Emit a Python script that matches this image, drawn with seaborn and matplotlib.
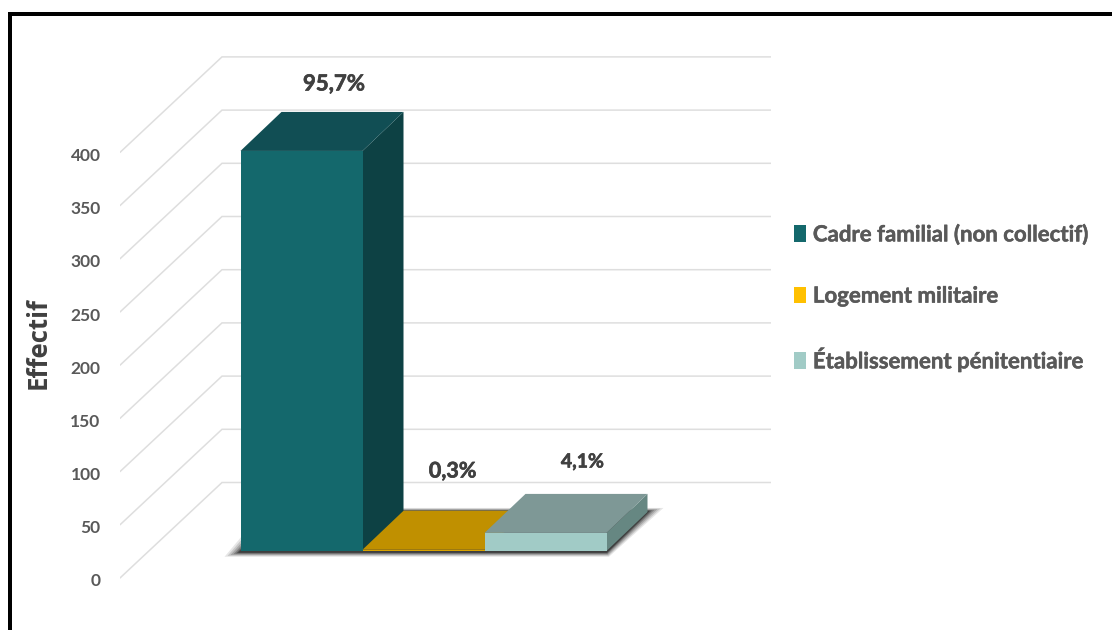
import matplotlib
matplotlib.use("Agg")
import matplotlib.pyplot as plt
import matplotlib.patheffects as pe
from matplotlib.transforms import ScaledTranslation
import seaborn as sns
import pandas as pd
from matplotlib.patches import Polygon, Patch, Rectangle

categories = ["Cadre familial (non collectif)", "Logement militaire", "Établissement pénitentiaire"]
values = [376, 1.2, 17]
percent_labels = ["95,7%", "0,3%", "4,1%"]
y_ticks = [0, 50, 100, 150, 200, 250, 300, 350, 400]
front_colors = ["#14686C", "#D9A300", "#A1CBC6"]
top_colors = ["#114E54", "#C09000", "#7E9896"]
side_colors = ["#0D4144", "#A87F00", "#668782"]
legend_colors = ["#14686C", "#FFC000", "#A1CBC6"]

W, H = 1112, 630
sns.set_theme(style="white")
plt.rcParams["font.family"] = ["Lato", "DejaVu Sans"]
fig = plt.figure(figsize=(W / 100, H / 100), dpi=100, facecolor="white")

# pixel layout
L, R, T, B = 120, 771, 30, 610
PX_X = 122.0        # px per category
PX_Y = 53.2 / 50    # px per value unit
pos = [L / W, 1 - B / H, (R - L) / W, (B - T) / H]
xlim = ((L - 301.5) / PX_X, (R - 301.5) / PX_X)
heavy = [pe.withStroke(linewidth=0.45, foreground="#404040")]
heavy_grey = [pe.withStroke(linewidth=0.35, foreground="#595959")]

def ylim_for(zero_px):
    return ((zero_px - B) / PX_Y, (zero_px - T) / PX_Y)

# Back axis: walls and gridlines
ax_wall = fig.add_axes(pos, facecolor="none", zorder=1)
ax_wall.set_xlim(xlim)
ax_wall.set_ylim(ylim_for(578))
wall_dx, wall_dy = 102 / PX_X, 95.5 / PX_Y
for t in y_ticks:
    ax_wall.plot([xlim[0], xlim[0] + wall_dx, xlim[1]], [t, t + wall_dy, t + wall_dy],
                 color="#DEDEDE", lw=1.1, solid_joinstyle="miter")
ax_wall.set_yticks(y_ticks)
ax_wall.set_yticklabels([str(t) for t in y_ticks], fontsize=12.5, fontweight="bold", color="#595959")
ax_wall.set_xticks([])
ax_wall.tick_params(length=0, pad=14)
for lab in ax_wall.get_yticklabels():
    lab.set_transform(lab.get_transform() + ScaledTranslation(0, -2 / 100, fig.dpi_scale_trans))
sns.despine(ax=ax_wall, left=True, bottom=True)

# Front axis: bars
ax = fig.add_axes(pos, facecolor="none", zorder=2)
df = pd.DataFrame({"cat": categories, "val": values})
sns.barplot(data=df, x="cat", y="val", hue="cat", order=categories, hue_order=categories,
            palette=front_colors, saturation=1, width=1.0, dodge=False, legend=False, ax=ax, linewidth=0)
ax.set_xlim(xlim)
ax.set_ylim(ylim_for(551))
ax.set_xticks([])
ax.set_yticks([])
ax.set_xlabel("")
ax.set_ylabel("")
sns.despine(ax=ax, left=True, bottom=True)

bar_dx, bar_dy = 41 / PX_X, 39 / PX_Y

# Blurred floor shadow
for grow, a in [(16, 0.10), (13, 0.14), (10, 0.18), (7, 0.24), (4.5, 0.32), (2.5, 0.4)]:
    gx, gy = grow / PX_X, (1 + grow * 0.3) / PX_Y
    ax.add_patch(Polygon([(-0.5 - gx, -gy), (2.5 + gx * 0.15, -gy),
                          (2.5 + bar_dx + gx, bar_dy + gy * 0.7), (-0.5 + bar_dx - gx, bar_dy + gy * 0.7)],
                         closed=True, fc="#101010", ec="none", alpha=a, zorder=1.5))

for p in ax.patches:
    if isinstance(p, Rectangle):
        i = int(round(p.get_x() + p.get_width() / 2))
        p.set_zorder(3 + i + 0.5)

for i, v in enumerate(values):
    x0, x1 = i - 0.5, i + 0.5
    ax.add_patch(Polygon([(x1, 0), (x1 + bar_dx, bar_dy), (x1 + bar_dx, v + bar_dy), (x1, v)],
                         closed=True, fc=side_colors[i], ec="none", zorder=3 + i))
    ax.add_patch(Polygon([(x0, v), (x0 + bar_dx, v + bar_dy), (x1 + bar_dx, v + bar_dy), (x1, v)],
                         closed=True, fc=top_colors[i], ec="none", zorder=3 + i + 0.2))

def px_text(x, y, s, **kw):
    return fig.text(x / W, 1 - y / H, s, ha="center", va="center", zorder=5, **kw)

label_pos = [(334, 84), (452.5, 471), (582.5, 462)]
label_sizes = [16, 15.5, 14]
for (lx, ly), s, fs in zip(label_pos, percent_labels, label_sizes):
    px_text(lx, ly, s, fontsize=fs, fontweight="bold", color="#404040", path_effects=heavy)

px_text(38, 343, "Effectif", fontsize=18.5, fontweight="bold", color="#404040",
        rotation=90, family=["Open Sans", "DejaVu Sans"])

# Legend
handles = [Patch(fc=c, ec="none", label=n) for c, n in zip(legend_colors, categories)]
leg = fig.legend(handles=handles, loc="center left", bbox_to_anchor=(794 / W, 1 - 298 / H), frameon=False,
                 prop={"size": 16, "weight": "bold"}, labelcolor="#595959", labelspacing=1.81,
                 handlelength=0.54, handleheight=0.75, handletextpad=0.31, borderpad=0, borderaxespad=0)
for t in leg.get_texts():
    t.set_path_effects(heavy_grey)

# Outer frame (top and left only)
fig.add_artist(Rectangle((8 / W, 1 - 16 / H), (W - 8) / W, 4 / H, transform=fig.transFigure, fc="black", ec="none"))
fig.add_artist(Rectangle((8 / W, 0), 4 / W, 1 - 12 / H, transform=fig.transFigure, fc="black", ec="none"))

fig.savefig("out.png", dpi=100, facecolor="white")
